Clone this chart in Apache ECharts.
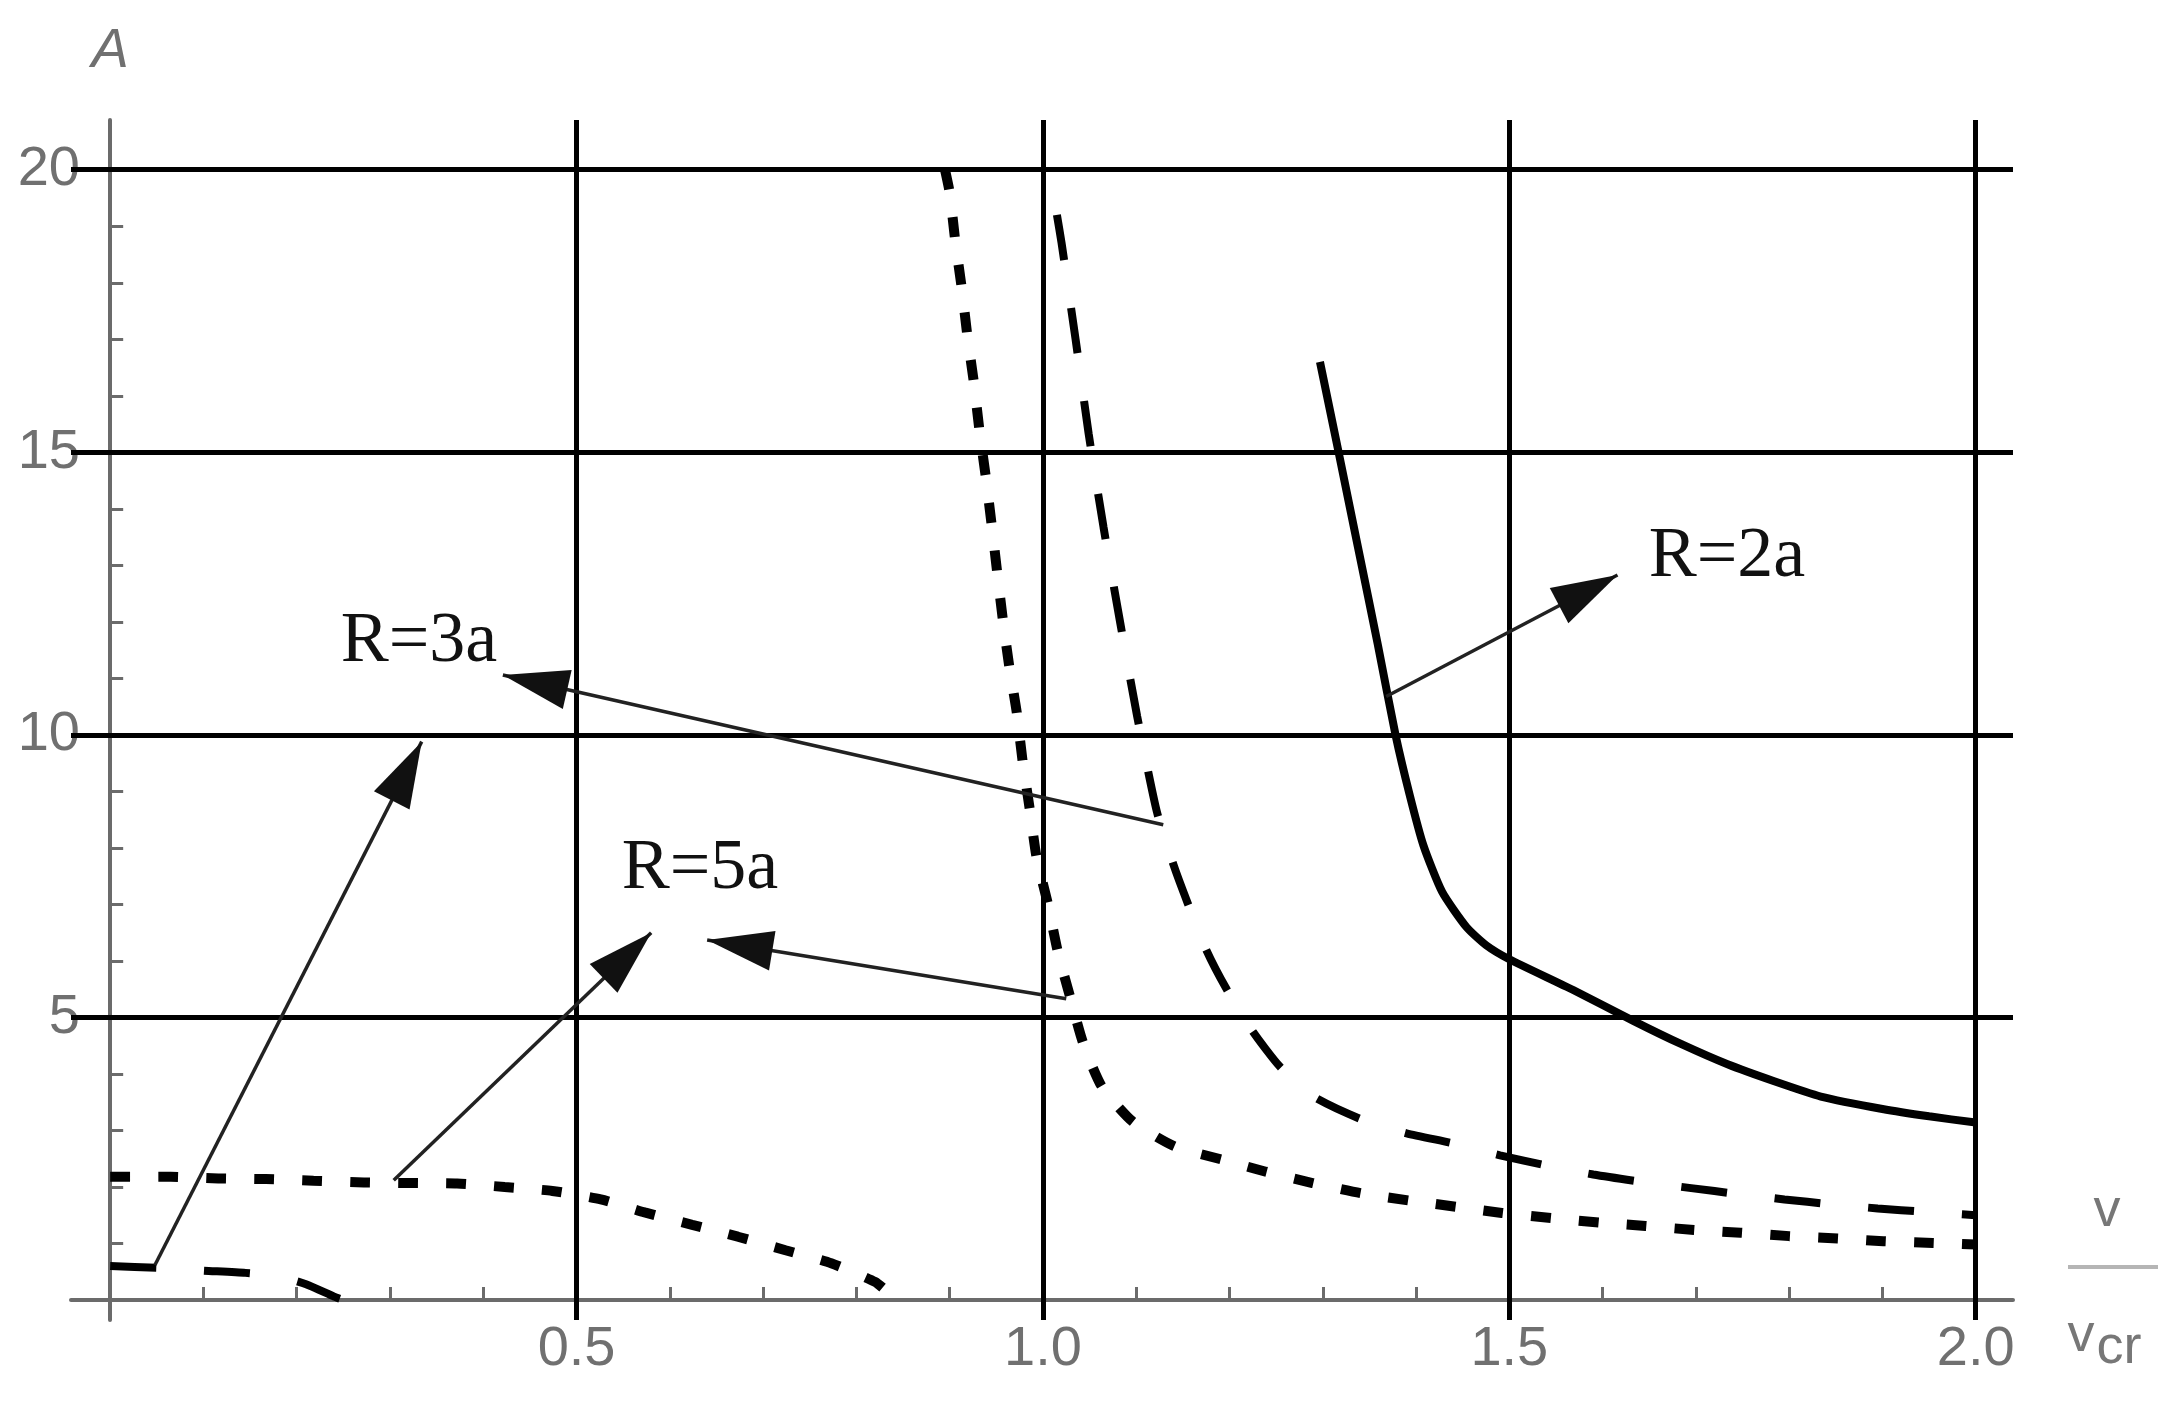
<!DOCTYPE html>
<html>
<head>
<meta charset="utf-8">
<script src="https://cdn.jsdelivr.net/npm/echarts@6/dist/echarts.min.js"></script>
<style>
html, body { margin: 0; padding: 0; background: #fff; }
#main { width: 2176px; height: 1402px; }
</style>
</head>
<body>
<div id="main"></div>
<script>
// tick positions and labels
const xLabels = [0.5, 1.0, 1.5, 2.0]
const yLabels = [5, 10, 15, 20]
const xMinor = [0.1, 0.2, 0.3, 0.4, 0.5, 0.6, 0.7, 0.8, 0.9, 1.0, 1.1, 1.2, 1.3, 1.4, 1.5, 1.6, 1.7, 1.8, 1.9, 2.0]
const yMinor = [1, 2, 3, 4, 5, 6, 7, 8, 9, 10, 11, 12, 13, 14, 15, 16, 17, 18, 19, 20]

// R=2a (solid)
const r2a = [[1.297, 16.6], [1.317, 15.0], [1.338, 13.3], [1.359, 11.6], [1.378, 10.0], [1.393, 8.95],
	[1.408, 8.04], [1.428, 7.22], [1.454, 6.6], [1.475, 6.28], [1.5, 6.03], [1.568, 5.49], [1.634, 4.93],
	[1.684, 4.53], [1.734, 4.17], [1.784, 3.87], [1.834, 3.6], [1.9, 3.38], [1.95, 3.25], [2.0, 3.14]]

// R=3a (dashed), two branches
const r3aUpper = [[1.015, 19.2], [1.02, 18.7], [1.035, 17.0], [1.049, 15.33], [1.065, 13.67], [1.083, 11.97],
	[1.101, 10.33], [1.122, 8.65], [1.14, 7.7], [1.155, 7.03], [1.175, 6.2], [1.197, 5.5], [1.225, 4.75],
	[1.254, 4.13], [1.29, 3.6], [1.341, 3.2], [1.39, 2.95], [1.44, 2.77], [1.49, 2.56], [1.541, 2.375],
	[1.59, 2.22], [1.642, 2.09], [1.695, 1.98], [1.745, 1.875], [1.795, 1.78], [1.844, 1.695],
	[1.895, 1.62], [1.945, 1.56], [2.0, 1.5]]
const r3aLower = [[0, 0.6], [0.05, 0.57], [0.1, 0.52], [0.145, 0.48], [0.18, 0.42], [0.21, 0.28], [0.24, 0.06], [0.25, 0]]

// R=5a (dotted), two branches
const r5aUpper = [[0.895, 20.0], [0.9, 19.6], [0.906, 18.74], [0.913, 17.9], [0.919, 17.06], [0.926, 16.23],
	[0.932, 15.38], [0.939, 14.53], [0.945, 13.72], [0.951, 12.87], [0.957, 12.04], [0.964, 11.2],
	[0.972, 10.39], [0.978, 9.56], [0.986, 8.67], [0.993, 7.85], [1.005, 7.03], [1.016, 6.16],
	[1.029, 5.37], [1.043, 4.55], [1.063, 3.78], [1.096, 3.16], [1.141, 2.72], [1.193, 2.48],
	[1.239, 2.27], [1.289, 2.07], [1.341, 1.89], [1.393, 1.76], [1.443, 1.65], [1.492, 1.54],
	[1.545, 1.45], [1.596, 1.37], [1.646, 1.31], [1.698, 1.24], [1.748, 1.19], [1.8, 1.13],
	[1.852, 1.09], [1.901, 1.04], [1.954, 1.01], [2.0, 0.98]]
const r5aLower = [[0, 2.18], [0.065, 2.18], [0.116, 2.15], [0.167, 2.14], [0.218, 2.11], [0.272, 2.08],
	[0.321, 2.07], [0.372, 2.06], [0.423, 2.0], [0.474, 1.93], [0.526, 1.78], [0.573, 1.55],
	[0.624, 1.33], [0.673, 1.12], [0.724, 0.88], [0.773, 0.65], [0.82, 0.32], [0.835, 0.12]]

// annotation arrows: start on a curve, tip near a label
const arrowFrom = [[1.368, 10.68], [1.129, 8.41], [0.048, 0.62], [0.304, 2.12], [1.025, 5.33]]
const arrowTo = [[1.616, 12.83], [0.421, 11.06], [0.334, 9.88], [0.58, 6.5], [0.64, 6.37]]

const gray = '#6b6b6b'
const labelFont = 'Liberation Sans'

const myChart = echarts.init(document.getElementById('main'))

function curve(name, data, type, width) {
	return {
		name: name,
		type: 'line',
		data: data,
		showSymbol: false,
		smooth: 0.2,
		silent: true,
		z: 3,
		lineStyle: { color: '#000', width: width, type: type, cap: 'butt' }
	}
}

function txt(x, y, text, font, color) {
	return {
		type: 'text', x: x, y: y, silent: true,
		style: { text: text, font: font, fill: color, align: 'center', verticalAlign: 'middle',
			textAlign: 'center', textVerticalAlign: 'middle' }
	}
}

let option = {
	animation: false,
	backgroundColor: '#fff',
	grid: { left: 71, right: 163, top: 120, bottom: 82, containLabel: false, outerBoundsMode: 'none' },
	xAxis: {
		type: 'value',
		min: -0.042,
		max: 2.04,
		axisLine: { onZero: true, lineStyle: { color: gray, width: 4 } },
		axisTick: { show: true, inside: true, length: 13, customValues: xMinor, lineStyle: { color: gray, width: 3 } },
		axisLabel: {
			customValues: xLabels,
			formatter: function (v) { return v.toFixed(1) },
			fontSize: 56, fontFamily: labelFont, color: '#707070', margin: 2
		},
		splitLine: { show: false }
	},
	yAxis: {
		type: 'value',
		min: -0.354,
		max: 20.88,
		name: 'A',
		nameLocation: 'end',
		nameGap: 41,
		nameTextStyle: { fontSize: 56, fontStyle: 'italic', fontFamily: labelFont, color: '#707070' },
		axisLine: { onZero: true, lineStyle: { color: gray, width: 4 } },
		axisTick: { show: true, inside: true, length: 13, customValues: yMinor, lineStyle: { color: gray, width: 3 } },
		axisLabel: {
			customValues: yLabels,
			fontSize: 56, fontFamily: labelFont, color: '#707070', margin: -9,
			padding: [0, 0, 10, 0]
		},
		splitLine: { show: false }
	},
	series: [
		// grid lines
		{
			type: 'line',
			data: [],
			silent: true,
			markLine: {
				silent: true,
				symbol: 'none',
				label: { show: false },
				emphasis: { disabled: true },
				lineStyle: { type: 'solid', color: '#000', width: 5 },
				data: yLabels.map(v => ({ yAxis: v })).concat(xLabels.map(v => ({ xAxis: v })))
			}
		},
		curve('R=2a', r2a, 'solid', 8),
		curve('R=3a', r3aUpper, [46, 48], 8),
		curve('R=3a low', r3aLower, [46, 48], 8),
		curve('R=5a', r5aUpper, [20, 28], 10),
		curve('R=5a low', r5aLower, [20, 28], 10),
		// arrow shafts
		{
			type: 'line',
			data: [],
			silent: true,
			z: 4,
			markLine: {
				silent: true,
				symbol: 'none',
				label: { show: false },
				emphasis: { disabled: true },
				lineStyle: { type: 'solid', color: '#222', width: 3.5 },
				data: arrowFrom.map((p, i) => [{ coord: p }, { coord: arrowTo[i] }])
			}
		}
	],
	graphic: [
		txt(1727, 557, 'R=2a', '72px "Liberation Serif"', '#111'),
		txt(419, 642, 'R=3a', '72px "Liberation Serif"', '#111'),
		txt(700, 869, 'R=5a', '72px "Liberation Serif"', '#111'),
		// axis name v / v_cr
		txt(2107, 1211, 'v', '54px "Liberation Sans"', '#777'),
		{ type: 'rect', silent: true, shape: { x: 2068, y: 1265, width: 90, height: 4 }, style: { fill: '#b5b5b5' } },
		txt(2081, 1336, 'v', '54px "Liberation Sans"', '#777'),
		txt(2119, 1348, 'cr', '54px "Liberation Sans"', '#777')
	]
}

myChart.setOption(option)

// arrow heads, built once the grid is laid out
const heads = arrowTo.map(function (tip, i) {
	const a = myChart.convertToPixel({ gridIndex: 0 }, arrowFrom[i])
	const b = myChart.convertToPixel({ gridIndex: 0 }, tip)
	const len = Math.hypot(b[0] - a[0], b[1] - a[1])
	const ux = (b[0] - a[0]) / len
	const uy = (b[1] - a[1]) / len
	const bx = b[0] - ux * 66
	const by = b[1] - uy * 66
	return {
		type: 'polygon', silent: true, z: 10,
		shape: { points: [b, [bx - uy * 20, by + ux * 20], [bx + uy * 20, by - ux * 20]] },
		style: { fill: '#111' }
	}
})
myChart.setOption({ graphic: option.graphic.concat(heads) })
</script>
</body>
</html>
